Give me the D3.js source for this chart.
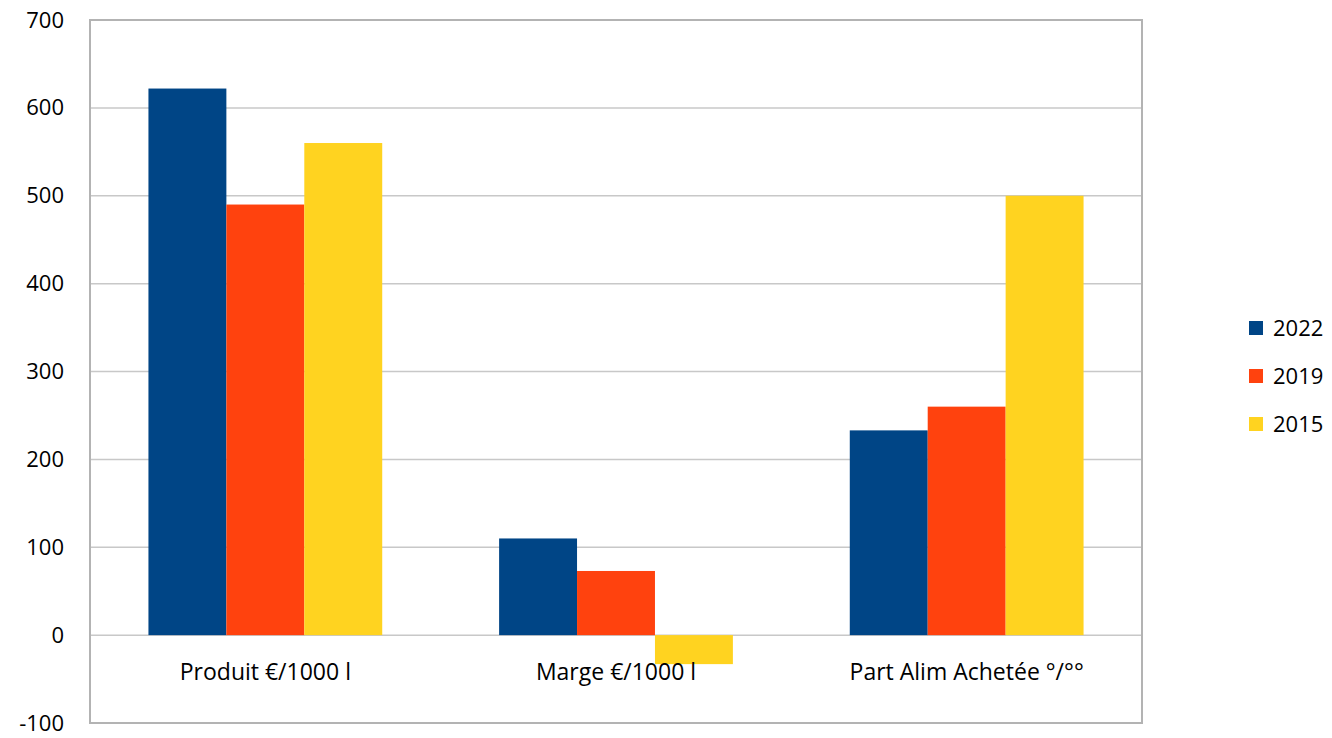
<!DOCTYPE html>
<html>
<head>
<meta charset="utf-8">
<script src="https://cdn.jsdelivr.net/npm/d3@7"></script>
<style>
  body { margin: 0; background: #fff; }
  text { font-family: "Open Sans", sans-serif; fill: #000; }
</style>
</head>
<body>
<svg id="chart"></svg>
<script>
// values
var categories = ['Produit €/1000 l', 'Marge €/1000 l', 'Part Alim Achetée °/°°'];
var seriesNames = ['2022', '2019', '2015'];
var seriesColors = ['#004586', '#ff420e', '#ffd320'];
var values2022 = [622, 110, 233];
var values2019 = [490, 73, 260];
var values2015 = [560, -33, 500];
var yTicks = [-100, 0, 100, 200, 300, 400, 500, 600, 700];

var W = 1332, H = 738,
    plot = {left: 90, top: 20, right: 1142, bottom: 723};

var svg = d3.select('#chart').attr('width', W).attr('height', H);

var x = d3.scaleBand().domain(categories)
    .range([plot.left, plot.right])
    .paddingInner(1/3).paddingOuter(1/6);
var xs = d3.scaleBand().domain(seriesNames).range([0, x.bandwidth()]);
var y = d3.scaleLinear().domain([-100, 700]).range([plot.bottom, plot.top]);

// grid
svg.append('g').selectAll('line').data(yTicks).enter().append('line')
    .attr('x1', plot.left).attr('x2', plot.right)
    .attr('y1', function(d) { return y(d); }).attr('y2', function(d) { return y(d); })
    .attr('stroke', '#c8c8c8').attr('stroke-width', 1.5);

var series = [values2022, values2019, values2015];
var rows = [];
series.forEach(function(vals, si) {
    vals.forEach(function(v, ci) {
        rows.push({cat: categories[ci], s: seriesNames[si], v: v, col: seriesColors[si]});
    });
});

svg.append('g').selectAll('rect').data(rows).enter().append('rect')
    .attr('x', function(d) { return x(d.cat) + xs(d.s); })
    .attr('width', xs.bandwidth())
    .attr('y', function(d) { return y(Math.max(0, d.v)); })
    .attr('height', function(d) { return Math.abs(y(d.v) - y(0)); })
    .attr('fill', function(d) { return d.col; });

// frame
svg.append('rect')
    .attr('x', plot.left).attr('y', plot.top)
    .attr('width', plot.right - plot.left).attr('height', plot.bottom - plot.top)
    .attr('fill', 'none').attr('stroke', '#b3b3b3').attr('stroke-width', 2);

// y axis labels (plain hyphen for negatives, like the original)
var yAxis = d3.axisLeft(y).tickValues(yTicks).tickSize(0).tickPadding(26)
    .tickFormat(function(d) { return String(d); });
var ga = svg.append('g').attr('transform', 'translate(' + plot.left + ',0)').call(yAxis);
ga.select('.domain').remove();
ga.selectAll('text').style('font-size', '22px').style('font-family', '"Open Sans", sans-serif').attr('fill', '#000');

// category labels
var xAxis = d3.axisBottom(x).tickSize(0).tickPadding(0);
var gx = svg.append('g').attr('transform', 'translate(0,' + y(0) + ')').call(xAxis);
gx.select('.domain').remove();
gx.selectAll('text').style('font-size', '23px').style('font-family', '"Open Sans", sans-serif')
    .attr('fill', '#000').attr('dy', null).attr('y', 45);

// legend
var lg = svg.append('g').selectAll('g').data(seriesNames).enter().append('g')
    .attr('transform', function(d, i) { return 'translate(1249,' + (328 + i * 48) + ')'; });
lg.append('rect').attr('x', 0).attr('y', -7).attr('width', 14).attr('height', 14)
    .attr('fill', function(d, i) { return seriesColors[i]; });
lg.append('text').attr('x', 24).attr('dy', '0.35em').style('font-size', '22px')
    .text(function(d) { return d; });
</script>
</body>
</html>
